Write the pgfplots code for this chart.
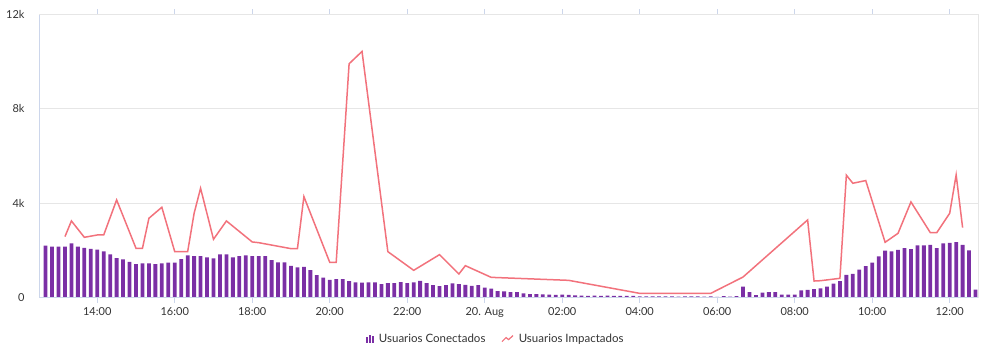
\documentclass[border=0pt]{standalone}
\usepackage{fontspec}
\setmainfont{Lato}
\usepackage{pgfplots}
\usepackage{pgfplotstable}
\pgfplotsset{compat=1.18}
\definecolor{barc}{HTML}{7B2FA5}
\definecolor{linec}{HTML}{F2727C}
\definecolor{axc}{HTML}{CCD6EB}
\definecolor{gridc}{HTML}{E6E6E6}
\definecolor{txt}{HTML}{333333}
\pgfplotstableread{
s v
-68 2200
-67 2160
-66 2160
-65 2160
-64 2300
-63 2160
-62 2115
-61 2070
-60 2040
-59 1960
-58 1830
-57 1680
-56 1620
-55 1520
-54 1420
-53 1450
-52 1450
-51 1420
-50 1450
-49 1480
-48 1490
-47 1635
-46 1790
-45 1760
-44 1760
-43 1705
-42 1660
-41 1830
-40 1830
-39 1705
-38 1760
-37 1790
-36 1760
-35 1760
-34 1760
-33 1590
-32 1495
-31 1495
-30 1350
-29 1285
-28 1310
-27 1170
-26 960
-25 845
-24 750
-23 790
-22 790
-21 705
-20 650
-19 635
-18 650
-17 650
-16 580
-15 620
-14 620
-13 660
-12 615
-11 650
-10 710
-9 620
-8 530
-7 495
-6 530
-5 610
-4 575
-3 540
-2 505
-1 535
0 425
1 380
2 280
3 270
4 235
5 240
6 183
7 155
8 155
9 140
10 127
11 120
12 127
13 115
14 95
15 85
16 80
17 85
18 80
19 85
20 80
21 80
22 75
23 80
24 60
25 55
26 60
27 55
28 60
29 55
30 50
31 55
32 60
33 55
34 50
35 55
36 40
37 70
38 50
39 70
40 465
41 240
42 110
43 210
44 235
45 235
46 127
47 127
48 127
49 310
50 330
51 365
52 400
53 470
54 600
55 705
56 970
57 1010
58 1185
59 1340
60 1480
61 1750
62 1990
63 1960
64 2030
65 2100
66 2060
67 2215
68 2215
69 2240
70 2100
71 2300
72 2325
73 2355
74 2240
75 2000
76 340
}\conectados
\pgfplotstableread{
s v
-65 2586
-64 3250
-62 2557
-60 2656
-59 2656
-57 4140
-54 2091
-53 2091
-52 3363
-50 3830
-48 1950
-46 1950
-45 3575
-44 4635
-42 2473
-40 3250
-36 2360
-35 2330
-30 2077
-29 2077
-28 4281
-24 1498
-23 1498
-21 9905
-19 10428
-15 1950
-11 1159
-7 1823
-4 1003
-3 1356
1 862
13 735
24 184
35 184
40 876
50 3292
51 706
52 720
55 820
56 5186
57 4846
59 4960
62 2346
64 2727
66 4055
69 2755
70 2755
72 3575
73 5200
74 2967
}\impactados
\begin{document}
\begin{tikzpicture}
\useasboundingbox (0,0) rectangle (998bp,364bp);
\begin{axis}[
  at={(39bp,66.3bp)}, anchor=south west,
  scale only axis, width=939.3bp, height=283.4bp,
  xmin=-69.02, xmax=76.43, ymin=0, ymax=12000,
  scaled y ticks=false,
  axis line style={draw=none},
  xtick={-60,-48,-36,-24,-12,0,12,24,36,48,60,72},
  xticklabels={14:00,16:00,18:00,20:00,22:00,20. Aug,02:00,04:00,06:00,08:00,10:00,12:00},
  ytick={0,4000,8000,12000},
  yticklabels={0,4k,8k,12k},
  ymajorgrids, grid style={gridc, line width=0.8bp},
  tick align=outside,
  major tick length=5bp,
  xtick style={axc, line width=0.8bp},
  ytick style={draw=none},
  ticklabel style={font=\fontsize{11bp}{13bp}\selectfont, text=txt},
  xticklabel style={yshift=-1bp},
  yticklabel style={xshift=-6bp},
  legend style={at={(0.4865,-0.146)}, anchor=center, draw=none, fill=none,
    legend columns=2, font=\fontsize{11.5bp}{13bp}\selectfont, text=txt,
    /tikz/every even column/.append style={column sep=14bp}},
  clip=false,
]
\addplot[ybar, bar width=3.8bp, fill=barc, draw=none,
  legend image code/.code={
    \fill[barc] (0bp,-3.5bp) rectangle (1.7bp,2.5bp);
    \fill[barc] (3bp,-3.5bp) rectangle (4.7bp,4.5bp);
    \fill[barc] (6bp,-3.5bp) rectangle (7.7bp,3.5bp);
    \path (10.5bp,0bp);}
] table[x=s, y=v] {\conectados};
\addlegendentry{Usuarios Conectados}
\addplot[linec, line width=1.5bp, mark=none,
  legend image code/.code={
    \draw[linec, line width=1.2bp] (0bp,-2.5bp) -- (4bp,1.5bp) -- (6.5bp,-0.5bp) -- (11bp,3.5bp);
    \path (14bp,0bp);}
] table[x=s, y=v] {\impactados};
\addlegendentry{Usuarios Impactados}
\draw[axc, line width=0.9bp] (rel axis cs:0,0) -- (rel axis cs:1,0);
\draw[axc, line width=0.9bp] (rel axis cs:0,0) -- (rel axis cs:0,1);
\draw[gridc, line width=0.9bp] (rel axis cs:0,1) -- (rel axis cs:1,1) -- (rel axis cs:1,0);
\end{axis}
\end{tikzpicture}
\end{document}
